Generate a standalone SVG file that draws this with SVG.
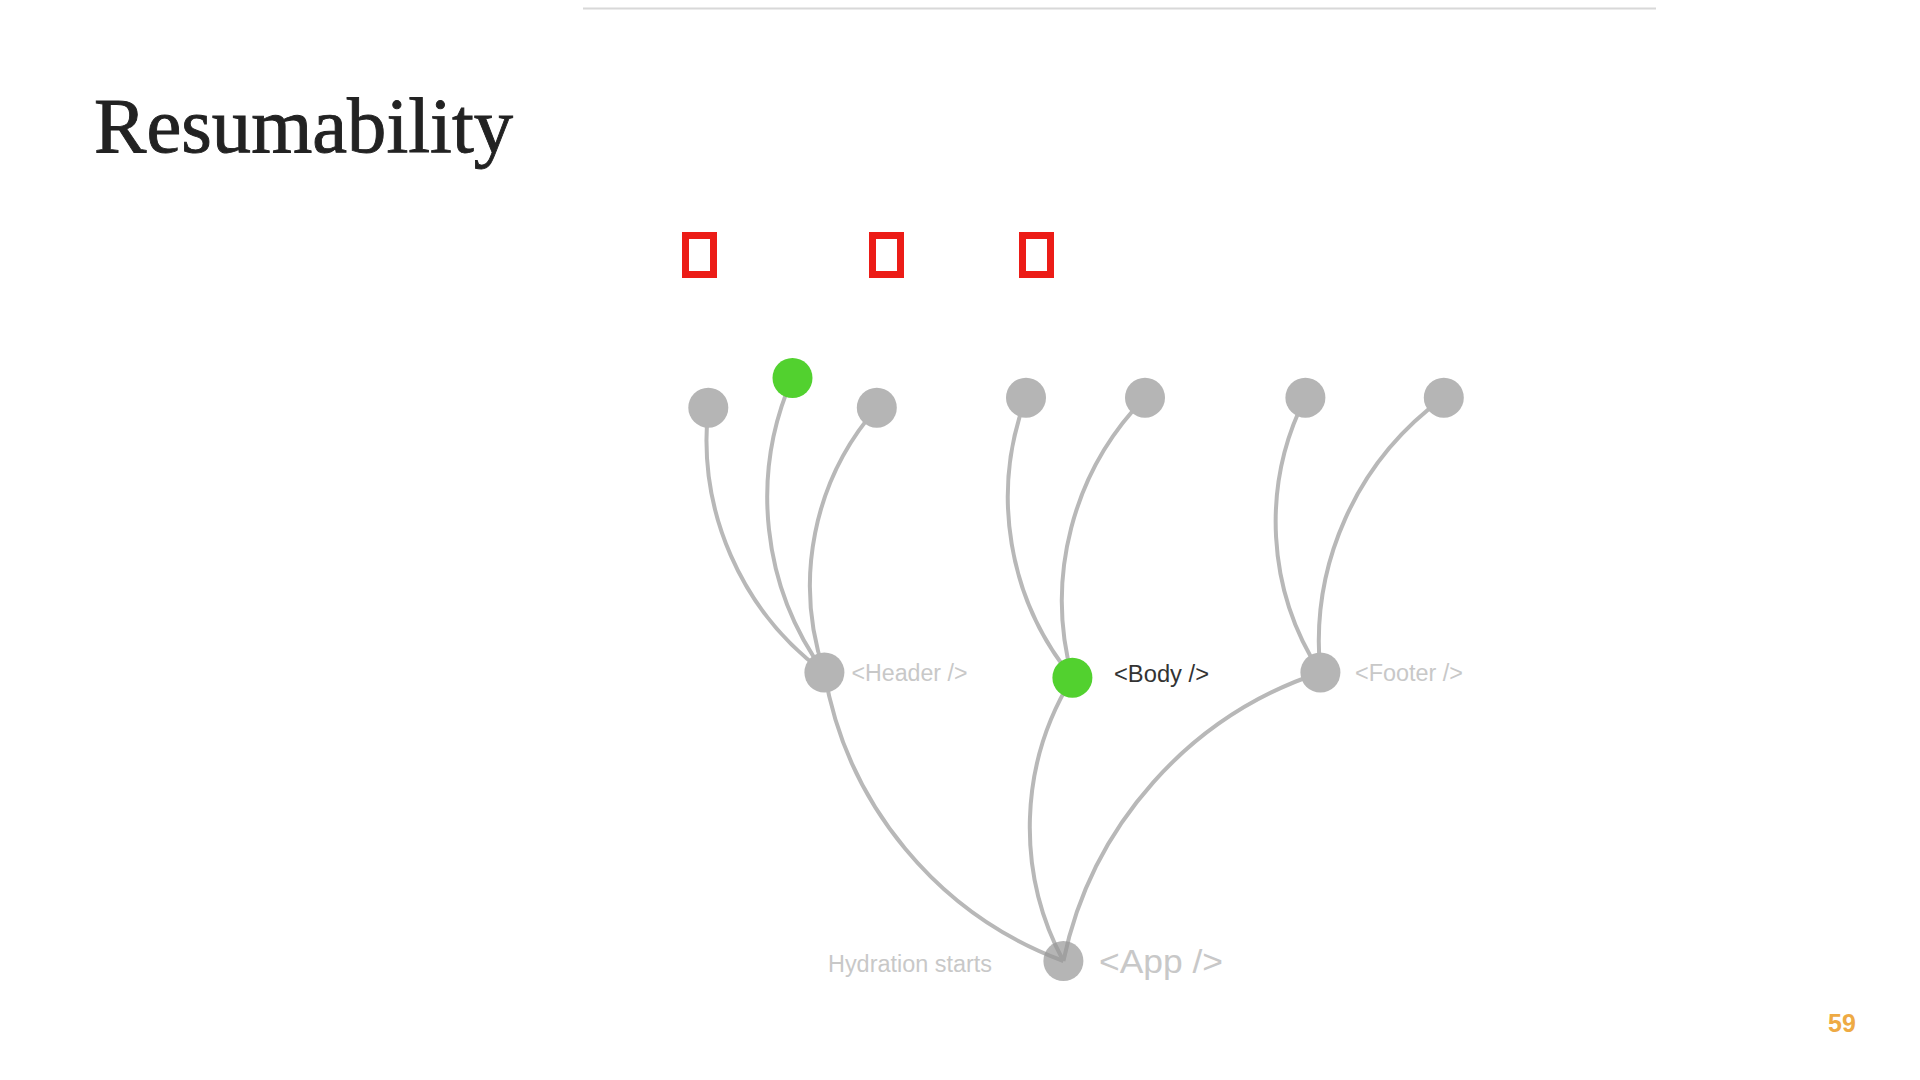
<svg xmlns="http://www.w3.org/2000/svg" width="1920" height="1080" viewBox="0 0 1920 1080">
<style>
.node{fill:#b5b5b5}
.green{fill:#52d12f}
.link{fill:none;stroke:#b8b8b8;stroke-width:4}
.lbl{font-family:"Liberation Sans",Arial,sans-serif;font-size:23px;fill:#c8c8c8}
.tofu{fill:none;stroke:#ec1c17;stroke-width:7}
</style>
<rect width="1920" height="1080" fill="#ffffff"/>
<line x1="583" y1="8.5" x2="1656" y2="8.5" stroke="#d8d8d8" stroke-width="2"/>
<text x="94" y="152" font-family="'Liberation Serif','Times New Roman',serif" font-size="78" fill="#222222" stroke="#222222" stroke-width="0.9" textLength="419" lengthAdjust="spacingAndGlyphs">Resumability</text>
<g id="icons">
<rect class="tofu" x="685.5" y="235.5" width="28" height="39"/>
<rect class="tofu" x="872.5" y="235.5" width="28" height="39"/>
<rect class="tofu" x="1022.5" y="235.5" width="28" height="39"/>
</g>
<g id="connectors">
<path class="link" d="M824.4,672.5 A289.1,289.1 0 0,1 708.3,407.7"/>
<path class="link" d="M824.4,672.5 A296.2,296.2 0 0,1 792.5,378"/>
<path class="link" d="M824.4,672.5 A269.9,269.9 0 0,1 876.8,407.7"/>
<path class="link" d="M1072.4,677.7 A283.8,283.8 0 0,1 1026,397.7"/>
<path class="link" d="M1072.4,677.7 A289.3,289.3 0 0,1 1145,397.7"/>
<path class="link" d="M1320.4,672.5 A275.2,275.2 0 0,1 1305.4,397.7"/>
<path class="link" d="M1320.4,672.5 A301.2,301.2 0 0,1 1443.8,397.7"/>
<path class="link" d="M1063.4,961 A374.6,374.6 0 0,1 824.4,672.5"/>
<path class="link" d="M1063.4,961 A283.4,283.4 0 0,1 1072.4,677.7"/>
<path class="link" d="M1063.4,961 A386.4,386.4 0 0,1 1320.4,672.5"/>
</g>
<g id="app">
<circle cx="1063.4" cy="961" r="20" fill="#969696" fill-opacity="0.7"/>
<text class="lbl" x="828" y="972" textLength="164" lengthAdjust="spacingAndGlyphs">Hydration starts</text>
<text class="lbl" x="1099" y="973" style="font-size:34px" textLength="124" lengthAdjust="spacingAndGlyphs">&lt;App /&gt;</text>
</g>
<g id="header">
<circle class="node" cx="824.4" cy="672.5" r="20"/>
<text class="lbl" x="851.5" y="681" textLength="116" lengthAdjust="spacingAndGlyphs">&lt;Header /&gt;</text>
</g>
<g id="body">
<circle class="green" cx="1072.4" cy="677.7" r="20"/>
<text class="lbl" x="1114" y="682" style="fill:#333333" textLength="95" lengthAdjust="spacingAndGlyphs">&lt;Body /&gt;</text>
</g>
<g id="footer">
<circle class="node" cx="1320.4" cy="672.5" r="20"/>
<text class="lbl" x="1355" y="681" textLength="108" lengthAdjust="spacingAndGlyphs">&lt;Footer /&gt;</text>
</g>
<g id="header-child-1"><circle class="node" cx="708.3" cy="407.7" r="20"/></g>
<g id="header-child-2"><circle class="green" cx="792.5" cy="378" r="20"/></g>
<g id="header-child-3"><circle class="node" cx="876.8" cy="407.7" r="20"/></g>
<g id="body-child-1"><circle class="node" cx="1026" cy="397.7" r="20"/></g>
<g id="body-child-2"><circle class="node" cx="1145" cy="397.7" r="20"/></g>
<g id="footer-child-1"><circle class="node" cx="1305.4" cy="397.7" r="20"/></g>
<g id="footer-child-2"><circle class="node" cx="1443.8" cy="397.7" r="20"/></g>
<text x="1828" y="1032" font-family="'Liberation Sans',Arial,sans-serif" font-size="25" font-weight="bold" fill="#eeaa44">59</text>
</svg>
